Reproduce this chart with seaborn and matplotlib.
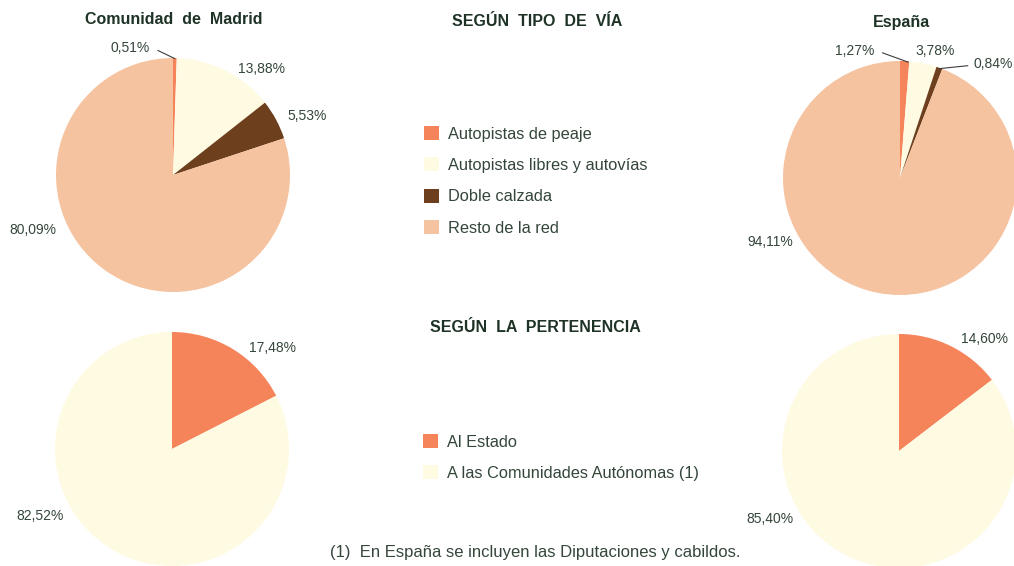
import matplotlib
matplotlib.use("Agg")
import matplotlib.pyplot as plt
import seaborn as sns

# data
via_labels = ["Autopistas de peaje", "Autopistas libres y autovías", "Doble calzada", "Resto de la red"]
madrid_via = [0.51, 13.88, 5.53, 80.09]
espana_via = [1.27, 3.78, 0.84, 94.11]

pert_labels = ["Al Estado", "A las Comunidades Autónomas (1)"]
madrid_pert = [17.48, 82.52]
espana_pert = [14.60, 85.40]

via_colors = ["#F5845A", "#FFFAE2", "#6D3F1D", "#F6C3A0"]
pert_colors = ["#F5845A", "#FFFAE2"]

text_col = "#34463A"
title_col = "#1E3326"

sns.set_theme(style="white")
plt.rcParams["font.family"] = ["Liberation Sans", "DejaVu Sans"]

W, H = 1014, 566
fig = plt.figure(figsize=(W / 100, H / 100), dpi=100)
fig.patch.set_facecolor("white")


def pie_axes(cx, cy, r):
    ax = fig.add_axes([(cx - r) / W, 1 - (cy + r) / H, 2 * r / W, 2 * r / H])
    ax.set_axis_off()
    return ax


def fmt(v):
    return f"{v:.2f}".replace(".", ",") + "%"


def draw_pie(ax, values, colors, label_pos, leaders=()):
    wedges, _ = ax.pie(values, colors=colors, startangle=90, counterclock=False,
                       radius=1, wedgeprops=dict(linewidth=0))
    ax.set_xlim(-1, 1)
    ax.set_ylim(-1, 1)
    for v, (x, y) in zip(values, label_pos):
        ax.text(x, y, fmt(v), ha="center", va="center", fontsize=10,
                color=text_col, clip_on=False)
    for (x0, y0, x1, y1) in leaders:
        ax.plot([x0, x1], [y0, y1], color="#3c3c3c", lw=0.8, clip_on=False)
    return wedges


R = 117
ax1 = pie_axes(173, 175, R)
w_via = draw_pie(ax1, madrid_via, via_colors,
                 [(-0.37, 1.085), (0.76, 0.906), (1.15, 0.50), (-1.2, -0.47)],
                 leaders=[(-0.13, 1.065, 0.015, 0.995)])

ax2 = pie_axes(900, 178, R)
draw_pie(ax2, espana_via, via_colors,
         [(-0.39, 1.085), (0.30, 1.085), (0.80, 0.975), (-1.11, -0.55)],
         leaders=[(-0.15, 1.07, 0.07, 0.99), (0.58, 0.96, 0.34, 0.935)])

ax3 = pie_axes(172, 449, R)
w_pert = draw_pie(ax3, madrid_pert, pert_colors, [(0.855, 0.863), (-1.13, -0.57)])

ax4 = pie_axes(899, 451, R)
draw_pie(ax4, espana_pert, pert_colors, [(0.735, 0.957), (-1.10, -0.58)])

# titles
title_kw = dict(ha="center", va="center", fontsize=11.5, fontweight="bold", color=title_col)
fig.text(174 / W, 1 - 20 / H, "Comunidad  de  Madrid", **title_kw)
fig.text(537 / W, 1 - 21 / H, "SEGÚN  TIPO  DE  VÍA", **title_kw)
fig.text(902 / W, 1 - 22 / H, "España", **title_kw)
fig.text(535 / W, 1 - 327 / H, "SEGÚN  LA  PERTENENCIA", **title_kw)

# legends
leg_kw = dict(loc="upper left", frameon=False, fontsize=11.8, handlelength=0.92,
              handleheight=0.92, handletextpad=0.55, labelspacing=0.97,
              borderpad=0, borderaxespad=0, labelcolor=text_col)
fig.legend(w_via, via_labels, bbox_to_anchor=(424 / W, 1 - 126 / H), **leg_kw)
fig.legend(w_pert, pert_labels, bbox_to_anchor=(423 / W, 1 - 434 / H), **leg_kw)

fig.text(535 / W, 1 - 553 / H, "(1)  En España se incluyen las Diputaciones y cabildos.",
         ha="center", va="center", fontsize=12, color=text_col)

fig.savefig("out.png", dpi=100)
